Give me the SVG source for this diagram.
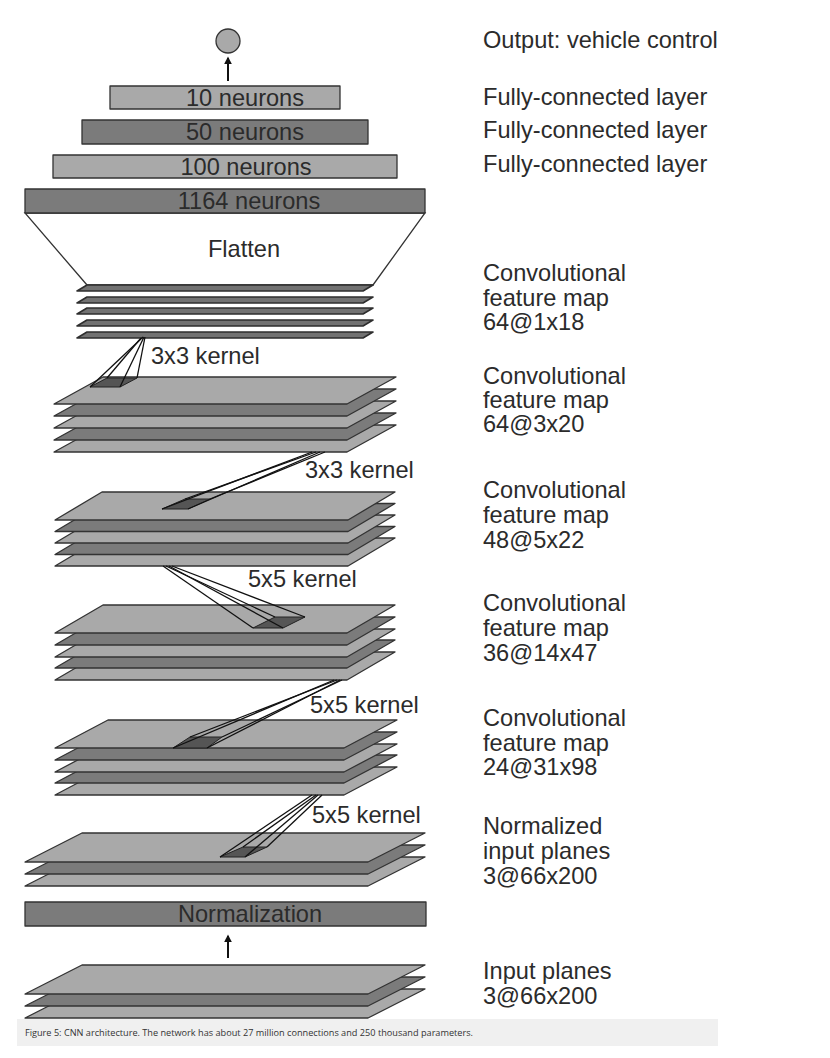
<svg xmlns="http://www.w3.org/2000/svg" width="830" height="1058" viewBox="0 0 830 1058">
<defs>
<style>
.t{font-family:"Liberation Sans",Arial,sans-serif;font-size:23.6px;fill:#2b2b2b}
.c{text-anchor:middle}
.lt{fill:#a9a9a9;stroke:#333;stroke-width:1.3;stroke-linejoin:round}
.dk{fill:#7b7b7b;stroke:#333;stroke-width:1.3;stroke-linejoin:round}
.thin{fill:#727272;stroke:#2e2e2e;stroke-width:1.6;stroke-linejoin:round}
.patch{fill:#555;stroke:#222;stroke-width:1}
.k{stroke:#111;stroke-width:1.3;fill:none}
.arr{stroke:#111;stroke-width:2;fill:none}
</style>
<marker id="ah" viewBox="0 0 10 10" refX="8" refY="5" markerWidth="4" markerHeight="4" orient="auto">
<path d="M0,0 L10,5 L0,10 z" fill="#111"/>
</marker>
</defs>
<rect width="830" height="1058" fill="#fff"/>

<g id="node-output">
<circle cx="228" cy="41" r="12" class="lt"/>
<text class="t" x="483" y="48">Output: vehicle control</text>
</g>

<g id="node-fc10">
<rect x="110" y="86" width="230" height="23" class="lt"/>
<text class="t c" x="245" y="106">10 neurons</text>
<text class="t" x="483" y="105">Fully-connected layer</text>
</g>
<g id="node-fc50">
<rect x="82" y="120" width="286" height="24" class="dk"/>
<text class="t c" x="245" y="140">50 neurons</text>
<text class="t" x="483" y="138">Fully-connected layer</text>
</g>
<g id="node-fc100">
<rect x="53" y="155" width="344" height="23" class="lt"/>
<text class="t c" x="246" y="175">100 neurons</text>
<text class="t" x="483" y="172">Fully-connected layer</text>
</g>

<g id="node-flatten">
<polygon points="25,213 425,213 373,285 87,285" fill="#fff" stroke="#333" stroke-width="1.3"/>
<text class="t c" x="244" y="257">Flatten</text>
</g>
<g id="node-fc1164">
<rect x="25" y="189" width="400" height="24" class="dk"/>
<text class="t c" x="249" y="209">1164 neurons</text>
</g>

<g id="node-conv-64-1x18">
<polygon class="thin" points="87,332 373,332 363,338 77,338"/>
<polygon class="thin" points="87,320 373,320 363,326 77,326"/>
<polygon class="thin" points="87,308 373,308 363,314 77,314"/>
<polygon class="thin" points="87,297 373,297 363,303 77,303"/>
<polygon class="thin" points="87,285 373,285 363,291 77,291"/>
<text class="t" x="483" y="281">Convolutional</text>
<text class="t" x="483" y="306">feature map</text>
<text class="t" x="483" y="330">64@1x18</text>
</g>

<g id="node-conv-64-3x20">
<polygon class="lt" points="103,425 396,425 347,452 54,452"/>
<polygon class="dk" points="103,413 396,413 347,440 54,440"/>
<polygon class="lt" points="103,401 396,401 347,428 54,428"/>
<polygon class="dk" points="103,389 396,389 347,416 54,416"/>
<polygon class="lt" points="103,377 396,377 347,404 54,404"/>
<text class="t" x="483" y="384">Convolutional</text>
<text class="t" x="483" y="408">feature map</text>
<text class="t" x="483" y="432">64@3x20</text>
</g>

<g id="node-conv-48-5x22">
<polygon class="lt" points="102,538 395,538 348,566 55,566"/>
<polygon class="dk" points="102,526.5 395,526.5 348,554.5 55,554.5"/>
<polygon class="lt" points="102,515 395,515 348,543 55,543"/>
<polygon class="dk" points="102,503.5 395,503.5 348,531.5 55,531.5"/>
<polygon class="lt" points="102,492 395,492 348,520 55,520"/>
<text class="t" x="483" y="498">Convolutional</text>
<text class="t" x="483" y="523">feature map</text>
<text class="t" x="483" y="548">48@5x22</text>
</g>

<g id="node-conv-36-14x47">
<polygon class="lt" points="103,652 395,652 347,680 55,680"/>
<polygon class="dk" points="103,640 395,640 347,668 55,668"/>
<polygon class="lt" points="103,629 395,629 347,657 55,657"/>
<polygon class="dk" points="103,617 395,617 347,645 55,645"/>
<polygon class="lt" points="103,605 395,605 347,633 55,633"/>
<text class="t" x="483" y="611">Convolutional</text>
<text class="t" x="483" y="636">feature map</text>
<text class="t" x="483" y="661">36@14x47</text>
</g>

<g id="node-conv-24-31x98">
<polygon class="lt" points="108,767 397,767 344,795 55,795"/>
<polygon class="dk" points="108,755 397,755 344,783 55,783"/>
<polygon class="lt" points="108,744 397,744 344,772 55,772"/>
<polygon class="dk" points="108,732 397,732 344,760 55,760"/>
<polygon class="lt" points="108,720 397,720 344,748 55,748"/>
<text class="t" x="483" y="726">Convolutional</text>
<text class="t" x="483" y="751">feature map</text>
<text class="t" x="483" y="775">24@31x98</text>
</g>

<g id="node-normalized-input">
<polygon class="lt" points="82,857 425,857 368,886 25,886"/>
<polygon class="dk" points="82,845 425,845 368,874 25,874"/>
<polygon class="lt" points="82,833 425,833 368,862 25,862"/>
<text class="t" x="483" y="834">Normalized</text>
<text class="t" x="483" y="859">input planes</text>
<text class="t" x="483" y="884">3@66x200</text>
</g>

<g id="node-normalization">
<rect x="25" y="902" width="401" height="24" class="dk"/>
<text class="t c" x="250" y="922">Normalization</text>
</g>

<g id="node-input">
<polygon class="lt" points="82,989 425,989 368,1018 25,1018"/>
<polygon class="dk" points="82,977 425,977 368,1006 25,1006"/>
<polygon class="lt" points="82,965 425,965 368,994 25,994"/>
<text class="t" x="483" y="979">Input planes</text>
<text class="t" x="483" y="1004">3@66x200</text>
</g>

<g id="connectors">
<line class="arr" x1="228" y1="81" x2="228" y2="58" marker-end="url(#ah)"/>
<line class="arr" x1="228" y1="958" x2="228" y2="936" marker-end="url(#ah)"/>

<g id="kernel-1">
<polygon class="patch" points="90,387 120,387 137,378 107,378"/>
<line class="k" x1="143" y1="337" x2="90" y2="387"/>
<line class="k" x1="141" y1="338" x2="107" y2="378"/>
<line class="k" x1="144" y1="337" x2="120" y2="387"/>
<line class="k" x1="145" y1="337" x2="137" y2="378"/>
<text class="t" x="151" y="364">3x3 kernel</text>
</g>
<g id="kernel-2">
<polygon class="patch" points="162,509 188,509 210,499 185,499"/>
<line class="k" x1="312" y1="452" x2="162" y2="509"/>
<line class="k" x1="316" y1="452" x2="185" y2="499"/>
<line class="k" x1="320" y1="452" x2="188" y2="509"/>
<line class="k" x1="325" y1="452" x2="210" y2="499"/>
<text class="t" x="305" y="478">3x3 kernel</text>
</g>
<g id="kernel-3">
<polygon class="patch" points="253,628 283,628 305,617 275,617"/>
<line class="k" x1="163" y1="566" x2="253" y2="628"/>
<line class="k" x1="166" y1="566" x2="275" y2="617"/>
<line class="k" x1="169" y1="566" x2="283" y2="628"/>
<line class="k" x1="172" y1="566" x2="305" y2="617"/>
<text class="t" x="248" y="587">5x5 kernel</text>
</g>
<g id="kernel-4">
<polygon class="patch" points="173,748 207,748 222,737 190,737"/>
<line class="k" x1="334" y1="680" x2="173" y2="748"/>
<line class="k" x1="337" y1="680" x2="190" y2="737"/>
<line class="k" x1="340" y1="680" x2="207" y2="748"/>
<line class="k" x1="342" y1="680" x2="222" y2="737"/>
<text class="t" x="310" y="713">5x5 kernel</text>
</g>
<g id="kernel-5">
<polygon class="patch" points="220,857 245,857 267,847 243,847"/>
<line class="k" x1="312" y1="795" x2="220" y2="857"/>
<line class="k" x1="316" y1="795" x2="243" y2="847"/>
<line class="k" x1="318" y1="795" x2="245" y2="857"/>
<line class="k" x1="322" y1="795" x2="267" y2="847"/>
<text class="t" x="312" y="823">5x5 kernel</text>
</g>
</g>

<g id="caption">
<rect x="17" y="1019" width="701" height="27" fill="#f0f0f0"/>
<text x="25" y="1036" font-family="'Open Sans','Liberation Sans',sans-serif" font-size="9.5" fill="#333" textLength="448" lengthAdjust="spacingAndGlyphs">Figure 5: CNN architecture. The network has about 27 million connections and 250 thousand parameters.</text>
</g>
</svg>
